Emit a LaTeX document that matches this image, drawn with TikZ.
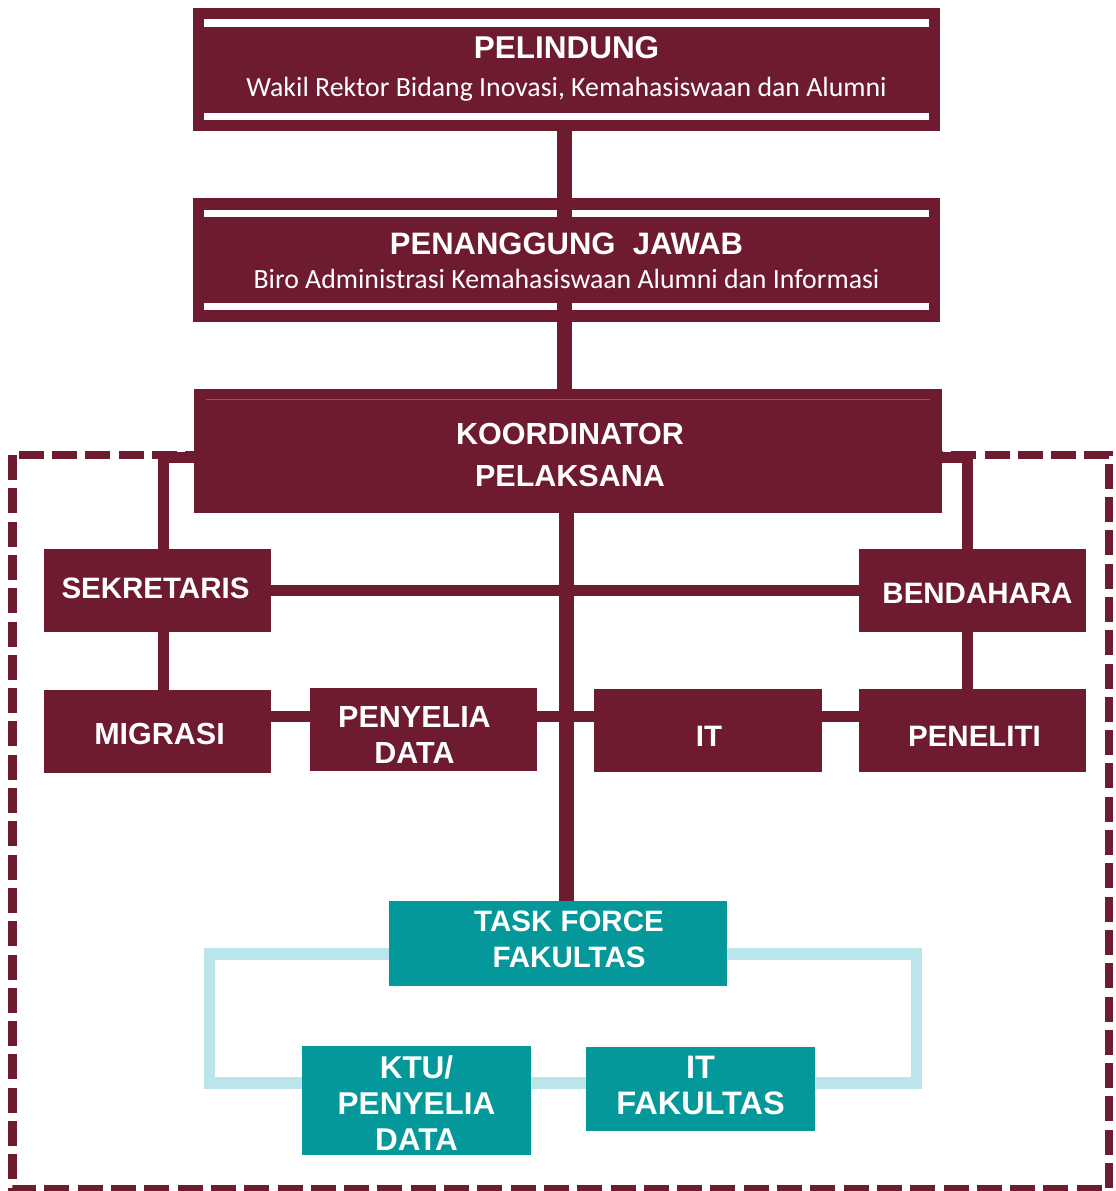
\documentclass[tikz,border=0pt]{standalone}
\usepackage{fontspec}
\setmainfont{Liberation Sans}
\newfontfamily\subfont{Carlito}
\usetikzlibrary{calc}
\definecolor{maroon}{HTML}{6E1B2F}
\definecolor{tealbox}{HTML}{05989A}
\definecolor{loopcyan}{HTML}{BAE5EA}
\begin{document}
\begin{tikzpicture}[x=1pt,y=-1pt,
  mbox/.style={fill=maroon,draw=none,inner sep=0pt,text=white,align=center,
    font=\fontsize{29}{36}\selectfont\bfseries},
  tbox/.style={fill=tealbox,draw=none,inner sep=0pt,text=white,align=center,
    font=\fontsize{29}{36}\selectfont\bfseries},
  btxt/.style={text=white,align=center,inner sep=0pt,
    font=\fontsize{29.5}{36}\selectfont\bfseries},
  conn/.style={draw=maroon,line width=11pt},
  mainconn/.style={draw=maroon,line width=15pt},
  loopline/.style={draw=loopcyan,line width=11.5pt},
  border/.style={draw=maroon,line width=8.5pt,dash pattern=on 25pt off 8.3pt},
  whitebar/.style={fill=white},
  subtxt/.style={text=white,inner sep=0pt,font=\subfont\fontsize{27.8}{30}\selectfont}]
\useasboundingbox (0,0) rectangle (1116,1191);
\fill[white] (0,0) rectangle (1116,1191);

% dashed frame
\coordinate (ftl) at (12.5,455);
\coordinate (fbr) at (1109,1189);
\draw[border] (ftl) rectangle (fbr);

% cyan loop
\coordinate (ltl) at (209.5,954);
\coordinate (lbr) at (916.5,1083);
\draw[loopline] (ltl) rectangle (lbr);

% boxes
\node[mbox,minimum width=747pt,minimum height=123pt] (pel) at (566.5,69.5) {};
\node[mbox,minimum width=747pt,minimum height=124pt] (pj) at (566.5,260) {};
\node[mbox,minimum width=748pt,minimum height=124pt] (koord) at (568,451) {};
\node[mbox,minimum width=227pt,minimum height=83pt] (sek) at (157.5,590.5) {};
\node[mbox,minimum width=227pt,minimum height=83pt] (bend) at (972.5,590.5) {};
\node[mbox,minimum width=227pt,minimum height=83pt] (mig) at (157.5,731.5) {};
\node[mbox,minimum width=227pt,minimum height=83pt] (pen) at (423.5,729.5) {};
\node[mbox,minimum width=228pt,minimum height=83pt] (it) at (708,730.5) {};
\node[mbox,minimum width=227pt,minimum height=83pt] (pnl) at (972.5,730.5) {};
\node[tbox,minimum width=338pt,minimum height=85pt] (tf) at (558,943.5) {};
\node[tbox,minimum width=229pt,minimum height=109pt] (ktu) at (416.5,1100.5) {};
\node[tbox,minimum width=229pt,minimum height=84pt] (itf) at (700.5,1089) {};

% connectors (same colour as the boxes they join)
\draw[conn] ($(koord.north west)!0.55!(koord.south west)$) -| ([xshift=6pt]sek.north);
\draw[conn] ($(koord.north east)!0.55!(koord.south east)$) -| ([xshift=-5pt]bend.north);
\draw[conn] (sek.east) -- (bend.west);
\draw[conn] ([xshift=6pt]sek.south) -- ([xshift=6pt]sek.south |- mig.north);
\draw[conn] ([xshift=-5pt]bend.south) -- ([xshift=-5pt]bend.south |- pnl.north);
\draw[conn] ([yshift=15.5pt]mig.east) -- ([yshift=15.5pt]mig.east -| pnl.west);
\draw[mainconn] ([xshift=-2pt]koord.south) -- ([xshift=-2pt]koord.south |- tf.north);

% white bars in the top boxes
\fill[whitebar] ($(pel.north west)+(11,11)$) rectangle ($(pel.north east)+(-11,19)$);
\fill[whitebar] ($(pel.south west)+(11,-18)$) rectangle ($(pel.south east)+(-11,-11)$);
\fill[whitebar] ($(pj.north west)+(11,12)$) rectangle ($(pj.north east)+(-11,19)$);
\fill[whitebar] ($(pj.south west)+(11,-19)$) rectangle ($(pj.south east)+(-11,-12)$);
\draw[mainconn] ([xshift=-2pt]pel.south) -- ([xshift=-2pt]pel.south |- koord.north);
\draw[draw=maroon!75!white,line width=0.8pt] ($(koord.north west)+(12,11)$) -- ($(koord.north east)+(-12,11)$);

% texts
\node[btxt,font=\fontsize{31.5}{36}\selectfont\bfseries] at ([yshift=22pt]pel.center) {PELINDUNG};
\node[subtxt] at ([yshift=-20pt]pel.center) {Wakil Rektor Bidang Inovasi, Kemahasiswaan dan Alumni};
\node[btxt,font=\fontsize{31}{36}\selectfont\bfseries] at ([yshift=16pt]pj.center) {PENANGGUNG\ \ JAWAB};
\node[subtxt] at ([yshift=-19pt]pj.center) {Biro Administrasi Kemahasiswaan Alumni dan Informasi};
\node[btxt,font=\fontsize{30.5}{42}\selectfont\bfseries] at ([xshift=2pt,yshift=-4pt]koord.center) {KOORDINATOR\\PELAKSANA};
\node[btxt] at ([xshift=-2pt,yshift=2pt]sek.center) {SEKRETARIS};
\node[btxt] at ([xshift=5pt,yshift=-3pt]bend.center) {BENDAHARA};
\node[btxt,font=\fontsize{30.5}{36}\selectfont\bfseries] at ([xshift=2pt,yshift=-2pt]mig.center) {MIGRASI};
\node[btxt,font=\fontsize{30.5}{36}\selectfont\bfseries] at ([xshift=-9pt,yshift=-5pt]pen.center) {PENYELIA\\DATA};
\node[btxt] at ([xshift=1pt,yshift=-6pt]it.center) {IT};
\node[btxt] at ([xshift=2pt,yshift=-6pt]pnl.center) {PENELITI};
\node[btxt] at ([xshift=11pt,yshift=4.5pt]tf.center) {TASK FORCE\\FAKULTAS};
\node[btxt,font=\fontsize{31.5}{36}\selectfont\bfseries] at ([yshift=-2.5pt]ktu.center) {KTU/\\PENYELIA\\DATA};
\node[btxt,font=\fontsize{32.5}{36}\selectfont\bfseries] at ([yshift=4pt]itf.center) {IT\\FAKULTAS};
\end{tikzpicture}
\end{document}
